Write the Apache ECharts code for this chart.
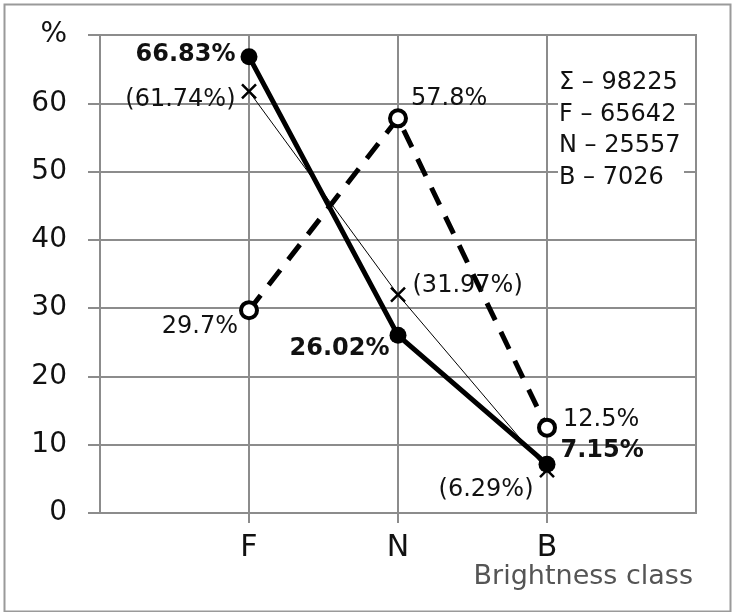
<!DOCTYPE html>
<html>
<head>
<meta charset="utf-8">
<script src="https://cdn.jsdelivr.net/npm/echarts@6/dist/echarts.min.js"></script>
<style>
html,body{margin:0;padding:0;background:#fff;}
#c{width:738px;height:612px;}
</style>
</head>
<body>
<div id="c"></div>
<script>
// ---- data ----
const categories = ['F', 'N', 'B'];
const observed = [66.83, 26.02, 7.15];      // solid line, filled circles
const reference = [29.7, 57.8, 12.5];       // dashed line, open circles
const expected = [61.74, 31.97, 6.29];      // thin line, crosses
const yTicks = [0, 10, 20, 30, 40, 50, 60, 70];
const totals = ['Σ – 98225', 'F – 65642', 'N – 25557', 'B – 7026'];
const xName = 'Brightness class';

// ---- layout helpers (not data) ----
const axisCats = [''].concat(categories, ['']);

const obsLabels = [
  { position: 'left', distance: 5, offset: [0, -2] },
  { position: 'left', distance: 0, offset: [0, 13] },
  { position: 'right', distance: 5, offset: [0, -13] }
];
const refLabels = [
  { position: 'left', distance: 1, offset: [0, 17] },
  { position: 'right', distance: 3, offset: [0, -20] },
  { position: 'right', distance: 6, offset: [0, -8] }
];
const expLabels = [
  { position: 'left', distance: 4, offset: [0, 8] },
  { position: 'right', distance: 5, offset: [0, -9] },
  { position: 'left', distance: 4, offset: [0, 20] }
];

function build(values, labels, fmt, bold) {
  const out = [null];
  values.forEach(function (v, i) {
    out.push({
      value: v,
      label: Object.assign({
        show: true,
        formatter: fmt(v),
        fontFamily: 'DejaVu Sans',
        fontSize: 24,
        fontWeight: bold ? 'bold' : 'normal',
        color: '#111'
      }, labels[i])
    });
  });
  out.push(null);
  return out;
}

const chart = echarts.init(document.getElementById('c'), null, { renderer: 'canvas' });
const gridColor = '#8c8c8c';

chart.setOption({
  animation: false,
  backgroundColor: '#fff',
  grid: { left: 100, right: 42, top: 35, bottom: 99, show: true, borderColor: gridColor, borderWidth: 2 },
  xAxis: {
    type: 'category',
    boundaryGap: false,
    data: axisCats,
    axisLine: { show: true, lineStyle: { color: gridColor, width: 2 } },
    axisTick: {
      show: true, length: 10, inside: false,
      interval: function (i) { return i >= 1 && i <= categories.length; },
      lineStyle: { color: gridColor, width: 2 }
    },
    axisLabel: {
      show: true, interval: 0, margin: 20,
      fontFamily: 'DejaVu Sans', fontSize: 30, color: '#111'
    },
    splitLine: { show: true, interval: 0, lineStyle: { color: gridColor, width: 2 } }
  },
  yAxis: {
    type: 'value',
    min: yTicks[0],
    max: yTicks[yTicks.length - 1],
    interval: 10,
    axisLine: { show: true, lineStyle: { color: gridColor, width: 2 } },
    axisTick: { show: true, length: 12, lineStyle: { color: gridColor, width: 2 } },
    axisLabel: {
      margin: 33,
      fontFamily: 'DejaVu Sans', fontSize: 28, color: '#111',
      formatter: function (v) { return v === yTicks[yTicks.length - 1] ? '%' : String(v); }
    },
    splitLine: { show: true, lineStyle: { color: gridColor, width: 2 } }
  },
  series: [
    {
      name: 'reference', type: 'line', z: 3,
      data: build(reference, refLabels, function (v) { return v + '%'; }, false),
      symbol: 'circle', symbolSize: 16,
      itemStyle: { color: '#fff', borderColor: '#000', borderWidth: 4 },
      lineStyle: { color: '#000', width: 5, type: [19, 13] }
    },
    {
      name: 'expected', type: 'line', z: 4,
      data: build(expected, expLabels, function (v) { return '(' + v.toFixed(2) + '%)'; }, false),
      symbol: 'path://M-1,-1L1,1M1,-1L-1,1', symbolSize: 14,
      itemStyle: { color: 'none', borderColor: '#000', borderWidth: 2.5 },
      lineStyle: { color: '#000', width: 1 }
    },
    {
      name: 'observed', type: 'line', z: 5,
      data: build(observed, obsLabels, function (v) { return v.toFixed(2) + '%'; }, true),
      symbol: 'circle', symbolSize: 17,
      itemStyle: { color: '#000' },
      lineStyle: { color: '#000', width: 5 }
    }
  ],
  graphic: [
    {
      type: 'rect', left: 2, top: 2, z: -10, silent: true,
      shape: { width: 726, height: 607 },
      style: { fill: 'none', stroke: '#9a9a9a', lineWidth: 2 }
    },
    {
      type: 'rect', left: 558, top: 70, z: 100, silent: true,
      shape: { width: 126, height: 120 }, style: { fill: '#fff' }
    }
  ].concat(totals.map(function (t, i) {
    return {
      type: 'text', left: 559, top: 71 + i * 31.5, z: 101,
      style: { text: t, fontFamily: 'DejaVu Sans', fontSize: 24, fill: '#111' }
    };
  })).concat([
    {
      type: 'text', right: 45, top: 563, z: 100,
      style: { text: xName, fontFamily: 'DejaVu Sans', fontSize: 27, fill: '#555' }
    }
  ])
});
</script>
</body>
</html>
